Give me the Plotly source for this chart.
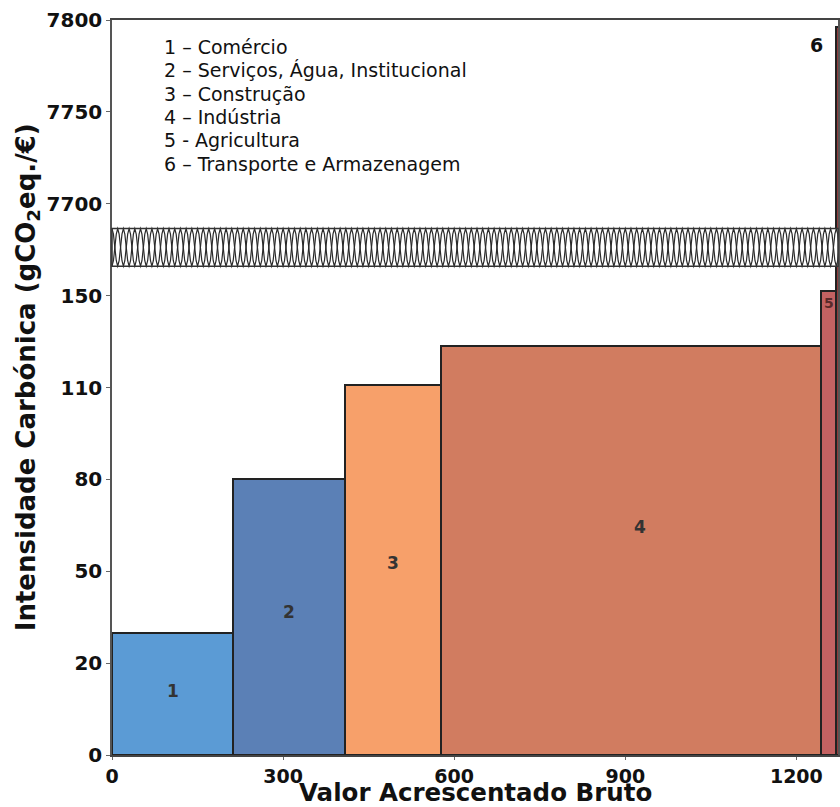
import numpy as np
import plotly.graph_objects as go

# ---------------- data ----------------
sector_names = [
    "1 – Comércio",
    "2 – Serviços, Água, Institucional",
    "3 – Construção",
    "4 – Indústria",
    "5 - Agricultura",
    "6 – Transporte e Armazenagem",
]
bar_numbers = ["1", "2", "3", "4", "5", "6"]
vab_widths = [213, 195, 169, 666, 26, 16]          # Valor Acrescentado Bruto
carbon_intensity = [30, 80, 111, 128, 152, 7796]   # gCO2eq./€
bar_colors = ["#5B9BD5", "#5B80B6", "#F7A06A", "#D17C60", "#C46262", "#8E3B3B"]

lower_ticks = [0, 20, 50, 80, 110, 150]
upper_ticks = [7700, 7750, 7800]
x_ticks = [0, 300, 600, 900, 1200]
X_MAX = 1273

# ---------------- broken-axis scale ----------------
lower_pos = list(range(len(lower_ticks)))
upper_pos = [len(lower_ticks) + i for i in range(len(upper_ticks))]


def to_pos(v):
    if v <= 1000:
        if v <= lower_ticks[-1]:
            return float(np.interp(v, lower_ticks, lower_pos))
        step = lower_ticks[-1] - lower_ticks[-2]
        return lower_pos[-1] + (v - lower_ticks[-1]) / step
    step = upper_ticks[1] - upper_ticks[0]
    return upper_pos[0] + (v - upper_ticks[0]) / step


widths = np.array(vab_widths, dtype=float)
edges = np.concatenate([[0.0], np.cumsum(widths)])
centers = edges[:-1] + widths / 2
heights = [to_pos(v) for v in carbon_intensity]

FONT = "DejaVu Sans"

fig = go.Figure()
fig.add_trace(go.Bar(
    x=centers, y=heights, width=widths,
    marker=dict(color=bar_colors, line=dict(color="#222222", width=2)),
    showlegend=False, hoverinfo="skip",
))

# ---------------- bar number labels ----------------
label_pos = [
    (centers[0], heights[0] * 0.52),
    (centers[1], heights[1] * 0.52),
    (centers[2], heights[2] * 0.52),
    (centers[3] + 15, heights[3] * 0.557),
    (centers[4] + 1, heights[4] - 0.13),
    (centers[5] - 42, 7.73),
]
label_sizes = [17, 17, 17, 17, 14, 19]
label_colors = ["#333333", "#333333", "#333333", "#333333", "#5a2a2a", "#111111"]
for t, (lx, ly), fs, col in zip(bar_numbers, label_pos, label_sizes, label_colors):
    fig.add_annotation(x=lx, y=ly, text=t, showarrow=False,
                       font=dict(family=FONT, size=fs, color=col, weight="bold"),
                       xanchor="center", yanchor="middle")

# ---------------- legend text ----------------
for i, name in enumerate(sector_names):
    fig.add_annotation(x=87, y=7.71 - i * 0.255, text=name, showarrow=False,
                       xanchor="left", yanchor="middle",
                       font=dict(family=FONT, size=19, color="#111111"))

# ---------------- axis break band ----------------
b0, b1 = 5.32, 5.73
period = 20.0
xs = np.arange(0, X_MAX + period, period / 8)
mid = (b0 + b1) / 2
amp = (b1 - b0) / 2
wave = np.cos(2 * np.pi * xs / period)
path_a = "M " + " L ".join(f"{x:.2f},{mid + amp * w:.4f}" for x, w in zip(xs, wave))
path_b = "M " + " L ".join(f"{x:.2f},{mid - amp * w:.4f}" for x, w in zip(xs, wave))
fig.add_shape(type="rect", xref="x domain", yref="y", x0=0, x1=1, y0=b0, y1=b1,
              fillcolor="white", line=dict(width=0), layer="above")
for p in (path_a, path_b):
    fig.add_shape(type="path", path=p, xref="x", yref="y",
                  line=dict(color="#2a2a2a", width=1.2), layer="above")
fig.add_shape(type="rect", xref="x domain", yref="y", x0=0, x1=1, y0=b0, y1=b1,
              fillcolor="rgba(0,0,0,0)", line=dict(color="#333333", width=1.5), layer="above")

# ---------------- axes ----------------
fig.update_xaxes(
    range=[0, X_MAX], tickvals=x_ticks, ticktext=[str(v) for v in x_ticks],
    showline=True, linecolor="#444444", linewidth=1.5, mirror=True,
    ticks="outside", ticklen=3, tickcolor="#666666",
    showgrid=False, zeroline=False,
    tickfont=dict(family=FONT, size=19, color="#111111", weight="bold"),
)
fig.update_yaxes(
    range=[0, upper_pos[-1]], tickvals=lower_pos + upper_pos,
    ticktext=[str(v) for v in lower_ticks + upper_ticks],
    showline=True, linecolor="#555555", linewidth=1.5, mirror=True,
    ticks="outside", ticklen=4, tickcolor="#666666",
    showgrid=False, zeroline=False,
    tickfont=dict(family=FONT, size=20, color="#111111", weight="bold"),
)

fig.add_annotation(xref="paper", yref="paper", x=0.5, y=-0.0505,
                   text="Valor Acrescentado Bruto", showarrow=False,
                   xanchor="center", yanchor="middle", borderpad=0,
                   font=dict(family=FONT, size=24.5, color="#111111", weight="bold"))
fig.add_annotation(xref="paper", yref="paper", x=-0.117, y=0.514,
                   text="Intensidade Carbónica (gCO<sub>2</sub>eq./€)", showarrow=False,
                   textangle=-90, xanchor="center", yanchor="middle",
                   font=dict(family=FONT, size=26, color="#111111", weight="bold"))

fig.update_layout(
    width=840, height=807,
    margin=dict(l=112, r=0, t=20, b=52),
    paper_bgcolor="white", plot_bgcolor="white",
    bargap=0, showlegend=False,
)

fig.write_html(
    "out.html",
    config={"displayModeBar": False},
    post_script="document.body.style.margin='0';document.body.style.overflow='hidden';",
)
